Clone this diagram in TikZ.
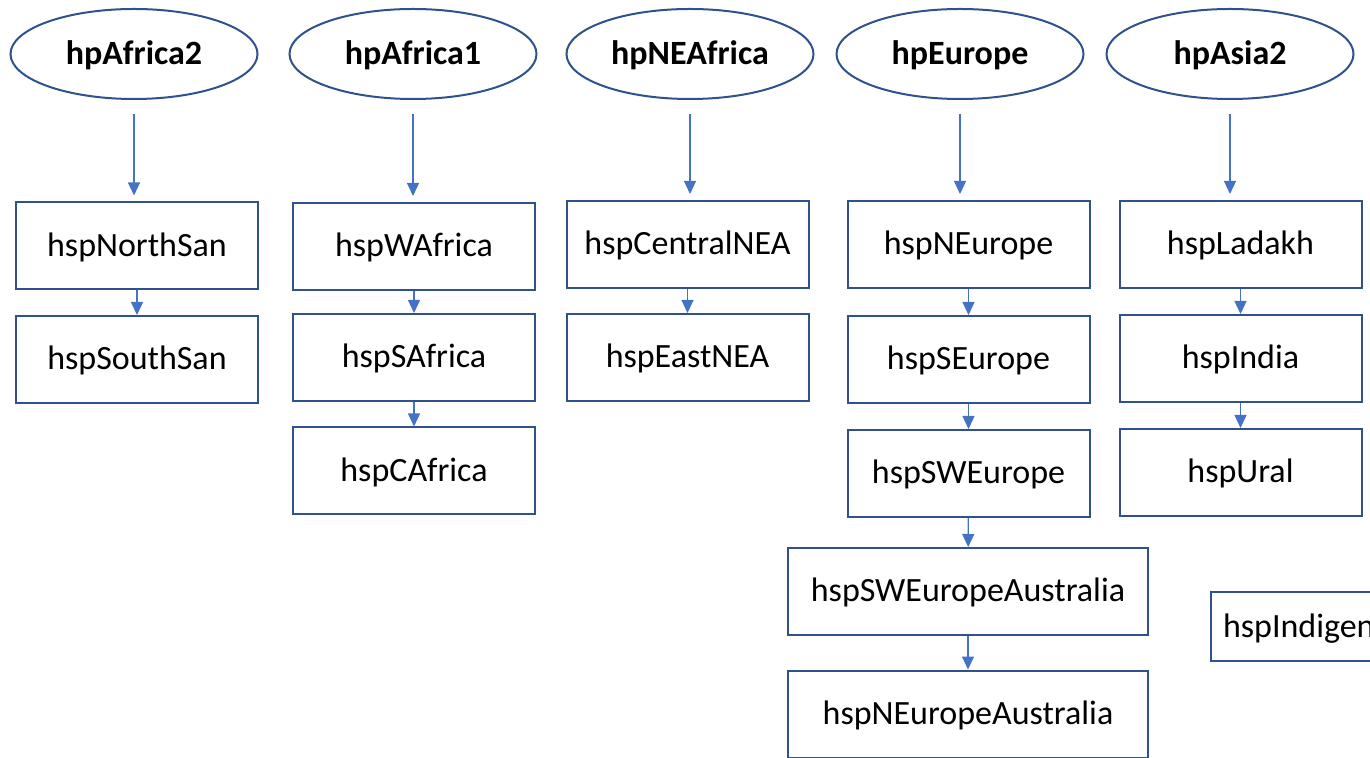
\documentclass[tikz,border=0pt]{standalone}
\usepackage{fontspec}
\setmainfont{Carlito}
\usepackage{tikz}
\usetikzlibrary{shapes.geometric, arrows.meta, positioning, calc}

\definecolor{boxline}{RGB}{47,82,143}
\definecolor{arrowblue}{RGB}{68,114,196}

\begin{document}
\begin{tikzpicture}[
    x=0.5pt, y=-0.5pt,
    group/.style={ellipse, draw=boxline, line width=1pt, inner sep=0pt, minimum width=123.5pt, minimum height=45pt, text height=14pt, text depth=3.5pt, font=\fontsize{17}{20}\selectfont\bfseries},
    subgroup/.style={rectangle, draw=boxline, line width=1pt, inner sep=0pt, minimum width=121pt, minimum height=43.5pt, text height=14pt, text depth=3.5pt, font=\fontsize{17}{20}\selectfont},
    widebox/.style={subgroup, minimum width=180pt},
    link/.style={-{Triangle[width=6pt, length=6.5pt]}, arrowblue, line width=0.6pt},
    drop/.style={link, shorten <=7pt, shorten >=3pt}
]
    \useasboundingbox (0,0) rectangle (1370,758);
    \clip (0,0) rectangle (1370,758);

    % Top level groups
    \node[group] (hpAfricaB) at (134,54) {hpAfrica2};
    \node[group] (hpAfricaA) at (413,54) {hpAfrica1};
    \node[group] (hpNEAfrica) at (690,54) {hpNEAfrica};
    \node[group] (hpEurope) at (960,54) {hpEurope};
    \node[group] (hpAsiaB) at (1230,54) {hpAsia2};

    % Africa 2
    \node[subgroup] (hspNorthSan) at (137,246) {hspNorthSan};
    \node[subgroup] (hspSouthSan) at (137,359.5) {hspSouthSan};

    % Africa 1
    \node[subgroup] (hspWAfrica) at (414,246.5) {hspWAfrica};
    \node[subgroup] (hspSAfrica) at (414,357.5) {hspSAfrica};
    \node[subgroup] (hspCAfrica) at (414,471) {hspCAfrica};

    % NE Africa
    \node[subgroup] (hspCentralNEA) at (687.5,244.5) {hspCentralNEA};
    \node[subgroup] (hspEastNEA) at (687.5,357.5) {hspEastNEA};

    % Europe
    \node[subgroup] (hspNEurope) at (968.5,244.5) {hspNEurope};
    \node[subgroup] (hspSEurope) at (968.5,359.5) {hspSEurope};
    \node[subgroup] (hspSWEurope) at (968.5,473.5) {hspSWEurope};
    \node[widebox] (hspSWEuropeAustralia) at (968,591.5) {hspSWEuropeAustralia\hspace{8pt}};
    \node[widebox] (hspNEuropeAustralia) at (968,714) {hspNEuropeAustralia\hspace{6pt}};

    % Asia 2
    \node[subgroup] (hspLadakh) at (1240.5,244.5) {hspLadakh};
    \node[subgroup] (hspIndia) at (1240.5,358.5) {hspIndia};
    \node[subgroup] (hspUral) at (1240.5,472.5) {hspUral};

    % cut off at the right edge
    \node[subgroup, anchor=west, minimum height=34.5pt, inner xsep=6pt, text width=113pt, align=left] (hspIndigen) at (1210,626.5) {hspIndigen};

    % Group to first subgroup
    \draw[drop] (hpAfricaB.south) -- (hpAfricaB.south |- hspNorthSan.north);
    \draw[drop] (hpAfricaA.south) -- (hpAfricaA.south |- hspWAfrica.north);
    \draw[drop] (hpNEAfrica.south) -- (hpNEAfrica.south |- hspCentralNEA.north);
    \draw[drop] (hpEurope.south) -- (hpEurope.south |- hspNEurope.north);
    \draw[drop] (hpAsiaB.south) -- (hpAsiaB.south |- hspLadakh.north);

    % Chains
    \draw[link] (hspNorthSan) -- (hspSouthSan);
    \draw[link] (hspWAfrica) -- (hspSAfrica);
    \draw[link] (hspSAfrica) -- (hspCAfrica);
    \draw[link] (hspCentralNEA) -- (hspEastNEA);
    \draw[link] (hspNEurope) -- (hspSEurope);
    \draw[link] (hspSEurope) -- (hspSWEurope);
    \draw[link] (hspSWEurope) -- (hspSWEuropeAustralia);
    \draw[link] (hspSWEuropeAustralia) -- (hspNEuropeAustralia);
    \draw[link] (hspLadakh) -- (hspIndia);
    \draw[link] (hspIndia) -- (hspUral);
\end{tikzpicture}
\end{document}
